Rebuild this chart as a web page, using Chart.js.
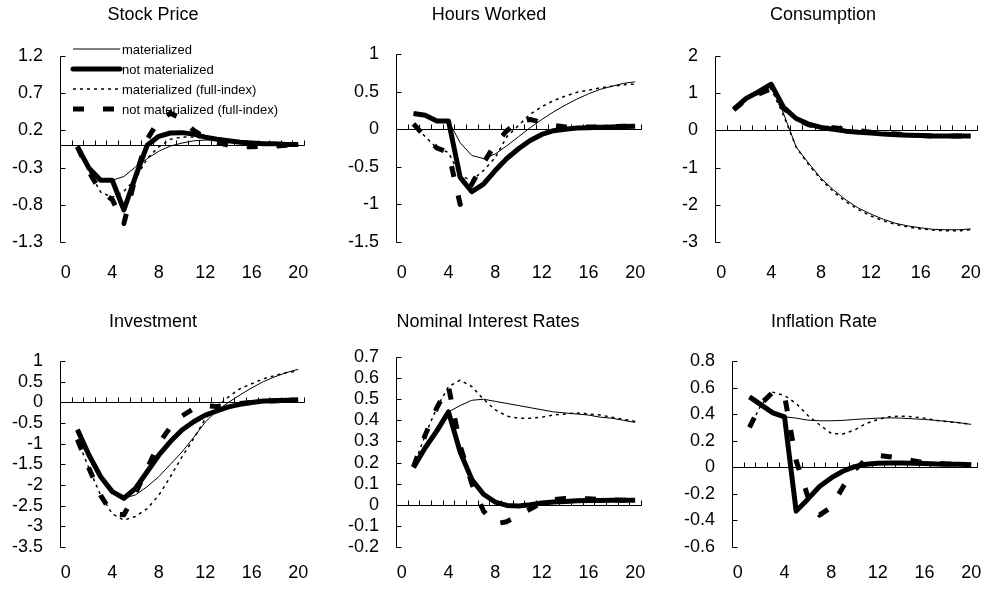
<!DOCTYPE html>
<html>
<head>
<meta charset="utf-8">
<script src="https://cdn.jsdelivr.net/npm/chart.js@4.4.1/dist/chart.umd.min.js"></script>
<style>
  html, body { margin:0; padding:0; background:#fff; width:985px; height:590px; overflow:hidden; position:relative; }
  canvas { position:absolute; }
</style>
</head>
<body>
<canvas id="c1"></canvas>
<canvas id="c2"></canvas>
<canvas id="c3"></canvas>
<canvas id="c4"></canvas>
<canvas id="c5"></canvas>
<canvas id="c6"></canvas>
<script>
const FONT = 'Arial, "Liberation Sans", Helvetica, sans-serif';

// periods after the shock
const periods = [1,2,3,4,5,6,7,8,9,10,11,12,13,14,15,16,17,18,19,20];
const xTicks = [0,4,8,12,16,20];
const seriesNames = ['materialized','not materialized','materialized (full-index)','not materialized (full-index)'];

// Stock Price
const stockTicks = [1.2,0.7,0.2,-0.3,-0.8,-1.3];
const stockMat     = [-0.02,-0.31,-0.47,-0.47,-0.42,-0.29,-0.18,-0.08,-0.01,0.03,0.06,0.07,0.07,0.06,0.045,0.035,0.03,0.02,0.02,0.01];
const stockNot     = [-0.02,-0.31,-0.47,-0.47,-0.87,-0.42,0.0,0.12,0.165,0.17,0.15,0.11,0.08,0.06,0.04,0.03,0.02,0.02,0.01,0.01];
const stockMatFull = [-0.02,-0.35,-0.63,-0.70,-0.62,-0.45,-0.18,-0.02,0.08,0.11,0.11,0.09,0.07,0.05,0.04,0.03,0.02,0.02,0.01,0.01];
const stockNotFull = [-0.02,-0.36,-0.62,-0.73,-1.05,-0.42,0.08,0.33,0.43,0.36,0.2,0.1,0.04,0.0,-0.02,-0.02,-0.01,-0.01,0.0,0.0];

// Hours Worked
const hoursTicks = [1,0.5,0,-0.5,-1,-1.5];
const hoursMat     = [0.21,0.185,0.11,0.11,-0.18,-0.35,-0.39,-0.33,-0.22,-0.1,0.02,0.13,0.23,0.32,0.40,0.47,0.53,0.57,0.61,0.63];
const hoursNot     = [0.21,0.185,0.11,0.11,-0.64,-0.83,-0.73,-0.55,-0.39,-0.26,-0.15,-0.07,-0.02,0.0,0.015,0.02,0.027,0.03,0.035,0.04];
const hoursMatFull = [0.07,-0.1,-0.25,-0.31,-0.62,-0.68,-0.55,-0.38,-0.1,0.05,0.2,0.3,0.38,0.44,0.49,0.52,0.55,0.57,0.59,0.6];
const hoursNotFull = [0.07,-0.1,-0.25,-0.31,-1.0,-0.73,-0.45,-0.2,-0.02,0.1,0.13,0.09,0.05,0.03,0.03,0.03,0.03,0.035,0.04,0.04];

// Consumption
const consTicks = [2,1,0,-1,-2,-3];
const consMat     = [0.57,0.86,1.04,1.24,0.45,-0.44,-0.88,-1.29,-1.6,-1.87,-2.09,-2.25,-2.39,-2.5,-2.57,-2.62,-2.66,-2.67,-2.67,-2.65];
const consNot     = [0.57,0.86,1.04,1.24,0.62,0.32,0.17,0.08,0.03,-0.02,-0.05,-0.07,-0.1,-0.12,-0.13,-0.14,-0.15,-0.15,-0.15,-0.15];
const consMatFull = [0.55,0.83,0.98,1.12,0.4,-0.45,-0.92,-1.32,-1.65,-1.92,-2.13,-2.3,-2.43,-2.53,-2.6,-2.65,-2.68,-2.7,-2.7,-2.67];
const consNotFull = [0.55,0.83,0.98,1.12,0.6,0.3,0.15,0.08,0.07,0.03,-0.01,-0.05,-0.08,-0.1,-0.12,-0.14,-0.15,-0.15,-0.15,-0.15];

// Investment
const invTicks = [1,0.5,0,-0.5,-1,-1.5,-2,-2.5,-3,-3.5];
const invMat     = [-0.66,-1.28,-1.8,-2.16,-2.32,-2.24,-2.04,-1.8,-1.5,-1.2,-0.85,-0.48,-0.2,0.0,0.18,0.35,0.5,0.62,0.72,0.8];
const invNot     = [-0.66,-1.28,-1.8,-2.16,-2.32,-2.08,-1.68,-1.28,-0.95,-0.67,-0.47,-0.31,-0.21,-0.11,-0.05,-0.005,0.03,0.04,0.05,0.06];
const invMatFull = [-0.9,-1.6,-2.25,-2.7,-2.85,-2.76,-2.57,-2.25,-1.8,-1.32,-0.88,-0.4,-0.11,0.13,0.33,0.45,0.57,0.65,0.72,0.76];
const invNotFull = [-0.9,-1.6,-2.25,-2.7,-2.72,-2.2,-1.6,-1.0,-0.6,-0.33,-0.15,-0.08,-0.1,-0.07,-0.03,0.0,0.02,0.04,0.05,0.05];

// Nominal Interest Rates
const nomTicks = [0.7,0.6,0.5,0.4,0.3,0.2,0.1,0,-0.1,-0.2];
const nomMat     = [0.177,0.27,0.35,0.44,0.47,0.495,0.5,0.49,0.48,0.47,0.46,0.45,0.44,0.435,0.43,0.425,0.415,0.41,0.40,0.39];
const nomNot     = [0.177,0.27,0.35,0.44,0.25,0.12,0.05,0.013,-0.003,-0.006,0.0,0.008,0.013,0.016,0.019,0.02,0.02,0.022,0.022,0.022];
const nomMatFull = [0.18,0.33,0.46,0.56,0.59,0.56,0.5,0.45,0.42,0.41,0.41,0.415,0.425,0.43,0.435,0.43,0.425,0.415,0.405,0.395];
const nomNotFull = [0.18,0.33,0.46,0.56,0.28,0.1,-0.03,-0.09,-0.08,-0.05,-0.02,0.01,0.025,0.03,0.03,0.028,0.025,0.023,0.022,0.022];

// Inflation Rate
const inflTicks = [0.8,0.6,0.4,0.2,0,-0.2,-0.4,-0.6];
const inflMat     = [0.53,0.47,0.41,0.38,0.37,0.355,0.35,0.35,0.353,0.36,0.365,0.37,0.372,0.37,0.365,0.36,0.353,0.345,0.335,0.323];
const inflNot     = [0.53,0.47,0.41,0.38,-0.33,-0.24,-0.145,-0.08,-0.03,0.005,0.023,0.03,0.033,0.033,0.03,0.028,0.025,0.023,0.022,0.02];
const inflMatFull = [0.3,0.47,0.565,0.54,0.48,0.39,0.32,0.255,0.25,0.28,0.33,0.36,0.38,0.385,0.38,0.37,0.353,0.343,0.335,0.323];
const inflNotFull = [0.3,0.48,0.565,0.54,0.05,-0.22,-0.36,-0.3,-0.15,-0.02,0.06,0.09,0.08,0.065,0.05,0.035,0.03,0.025,0.022,0.02];

// line look for each series: thin solid, thick solid, dotted, thick dashed
const styles = [
  { borderWidth:1,   borderDash:[] },
  { borderWidth:5,   borderDash:[] },
  { borderWidth:1.5, borderDash:[3,4] },
  { borderWidth:5,   borderDash:[11,19] }
];

// where each panel sits on the page: plot box, y-axis x, title centre, tick label row
const panels = [
  { id:'c1', title:'Stock Price',            ticks:stockTicks, data:[stockMat,stockNot,stockMatFull,stockNotFull], top:0,   axisX:60,  right:304, plotTop:56,  plotBottom:242, titleX:153, titleY:15,  labelY:272, legend:true },
  { id:'c2', title:'Hours Worked',           ticks:hoursTicks, data:[hoursMat,hoursNot,hoursMatFull,hoursNotFull], top:0,   axisX:396, right:641, plotTop:54,  plotBottom:242, titleX:489, titleY:15,  labelY:272 },
  { id:'c3', title:'Consumption',            ticks:consTicks,  data:[consMat,consNot,consMatFull,consNotFull],     top:0,   axisX:715, right:977, plotTop:56,  plotBottom:242, titleX:823, titleY:15,  labelY:272 },
  { id:'c4', title:'Investment',             ticks:invTicks,   data:[invMat,invNot,invMatFull,invNotFull],         top:295, axisX:60,  right:304, plotTop:361, plotBottom:547, titleX:153, titleY:322, labelY:572 },
  { id:'c5', title:'Nominal Interest Rates', ticks:nomTicks,   data:[nomMat,nomNot,nomMatFull,nomNotFull],         top:295, axisX:396, right:641, plotTop:357, plotBottom:547, titleX:488, titleY:322, labelY:572 },
  { id:'c6', title:'Inflation Rate',         ticks:inflTicks,  data:[inflMat,inflNot,inflMatFull,inflNotFull],     top:295, axisX:732, right:977, plotTop:361, plotBottom:547, titleX:824, titleY:322, labelY:572 }
];

const TITLE_SIZE = 18, TICK_SIZE = 18, RIGHT_ROOM = 14, PANEL_H = 295;

// y axis line with inward ticks, zero line with category ticks
const axisDeco = {
  id: 'axisDeco',
  beforeDatasetsDraw(chart) {
    const { ctx, chartArea: a, scales: { x, y } } = chart;
    ctx.save();
    ctx.strokeStyle = '#000';
    ctx.lineWidth = 1;
    ctx.beginPath();
    const lx = Math.round(a.left) + 0.5;
    ctx.moveTo(lx, Math.round(a.top) + 0.5);
    ctx.lineTo(lx, Math.round(a.bottom) + 0.5);
    y.ticks.forEach(t => {
      const py = Math.round(y.getPixelForValue(t.value)) + 0.5;
      ctx.moveTo(lx, py); ctx.lineTo(lx + 5, py);
    });
    const y0 = Math.round(y.getPixelForValue(0)) + 0.5;
    ctx.moveTo(lx, y0); ctx.lineTo(Math.round(x.getPixelForValue(20.5)) + 0.5, y0);
    for (let k = 0; k <= 20; k++) {
      const px = Math.round(x.getPixelForValue(k + 0.5)) + 0.5;
      ctx.moveTo(px, y0); ctx.lineTo(px, y0 - 5);
    }
    ctx.stroke();
    ctx.restore();
  }
};

// legend drawn inside the first panel, using each dataset's own line style
const lineLegend = {
  id: 'lineLegend',
  afterDraw(chart, args, opts) {
    if (!opts.show) return;
    const { ctx } = chart;
    ctx.save();
    ctx.font = '13px ' + FONT;
    ctx.textBaseline = 'middle';
    ctx.fillStyle = '#000';
    chart.data.datasets.forEach((ds, i) => {
      const yy = opts.y + i * opts.step;
      ctx.beginPath();
      ctx.strokeStyle = '#000';
      ctx.lineWidth = ds.borderWidth;
      ctx.setLineDash(ds.borderDash);
      ctx.lineCap = ds.borderWidth > 2 && !ds.borderDash.length ? 'round' : 'butt';
      ctx.moveTo(opts.x, yy); ctx.lineTo(opts.x + opts.len, yy);
      ctx.stroke();
      ctx.setLineDash([]);
      ctx.fillText(ds.label, opts.x + opts.len + 2, yy + 1);
    });
    ctx.restore();
  }
};

panels.forEach(p => {
  const cv = document.getElementById(p.id);
  // canvas centred on the title; extra room at the right for the last tick label
  const left = 2 * p.titleX - p.right;
  cv.width = p.right + RIGHT_ROOM - left; cv.height = PANEL_H;
  cv.style.left = left + 'px'; cv.style.top = p.top + 'px';
  const plotTop = p.plotTop - p.top, plotBottom = p.plotBottom - p.top, titleY = p.titleY - p.top;
  const lh = TITLE_SIZE * 1.2;
  const padTop = titleY - lh / 2;
  const padBottom = plotTop - padTop - lh;

  new Chart(cv, {
    type: 'line',
    data: {
      datasets: seriesNames.map((name, i) => ({
        label: name,
        data: periods.map((t, j) => ({ x: t, y: p.data[i][j] })),
        borderColor: '#000',
        borderWidth: styles[i].borderWidth,
        borderDash: styles[i].borderDash,
        borderJoinStyle: 'round',
        borderCapStyle: 'butt',
        pointRadius: 0,
        tension: 0,
        fill: false
      }))
    },
    options: {
      responsive: false,
      animation: false,
      events: [],
      layout: { padding: { left: 0, top: 0, bottom: 0, right: RIGHT_ROOM } },
      plugins: {
        legend: { display: false },
        tooltip: { enabled: false },
        title: {
          display: true, text: p.title, color: '#000',
          font: { family: FONT, size: TITLE_SIZE, weight: 'normal', lineHeight: 1.2 },
          padding: { top: padTop, bottom: padBottom }
        },
        lineLegend: { show: !!p.legend, x: 73 - left, y: 49, step: 20, len: 47 }
      },
      scales: {
        x: {
          type: 'linear', min: -0.5, max: 20.5,
          grid: { display: false, drawTicks: false },
          border: { display: false },
          afterBuildTicks: s => { s.ticks = xTicks.map(v => ({ value: v })); },
          afterFit: s => { s.height = PANEL_H - plotBottom; s.paddingLeft = 0; s.paddingRight = 0; },
          ticks: { color: '#000', padding: p.labelY - p.plotBottom - 10, maxRotation: 0, autoSkip: false,
                   font: { family: FONT, size: TICK_SIZE }, callback: v => String(v) }
        },
        y: {
          type: 'linear',
          min: p.ticks[p.ticks.length - 1], max: p.ticks[0],
          grid: { display: false, drawTicks: false },
          border: { display: false },
          afterBuildTicks: s => { s.ticks = p.ticks.map(v => ({ value: v })); },
          afterFit: s => { s.width = p.axisX - left; s.paddingTop = 0; s.paddingBottom = 0; },
          ticks: { color: '#000', padding: 17, autoSkip: false,
                   font: { family: FONT, size: TICK_SIZE }, callback: v => String(v) }
        }
      }
    },
    plugins: [axisDeco, lineLegend]
  });
});
</script>
</body>
</html>
